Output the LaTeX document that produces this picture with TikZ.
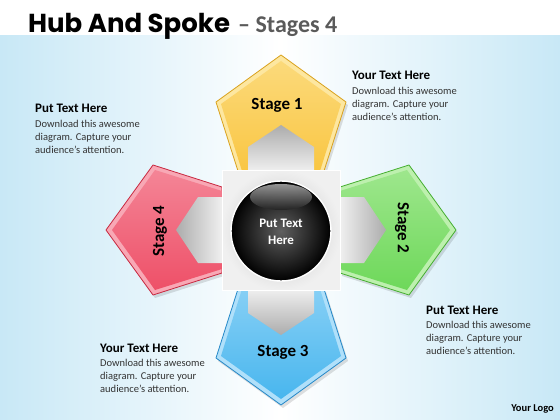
\documentclass[tikz,border=0pt]{standalone}
\usepackage{fontspec}
\setmainfont{Carlito}
\newfontfamily\titlefont{Poppins}
\definecolor{bgblue}{RGB}{200,232,246}
\definecolor{yD}{HTML}{D9A21E}\definecolor{yM}{HTML}{F9C643}\definecolor{yL}{HTML}{FDE7A0}
\definecolor{gD}{HTML}{45AE30}\definecolor{gM}{HTML}{6ED85A}\definecolor{gL}{HTML}{BDF0AE}
\definecolor{bD}{HTML}{2588C8}\definecolor{bM}{HTML}{48B6EE}\definecolor{bL}{HTML}{B0E0FA}
\definecolor{rD}{HTML}{C82840}\definecolor{rM}{HTML}{EE5068}\definecolor{rL}{HTML}{F8A8B5}
\definecolor{bodygray}{HTML}{333333}
\definecolor{titlegray}{HTML}{5A5A5A}
\begin{document}
\begin{tikzpicture}[x=1pt,y=-1pt,
  stagelbl/.style={font=\fontsize{17}{17}\selectfont\bfseries, text=black, inner sep=0},
  headtxt/.style={font=\fontsize{13}{14}\selectfont\bfseries, anchor=base west, inner sep=0, text=black},
  bodytxt/.style={font=\fontsize{10.5}{13.2}\selectfont, anchor=base west, align=left, inner sep=0, text=bodygray},
]
\useasboundingbox (0,0) rectangle (560,420);
% background
\fill[white] (0,0) rectangle (560,420);
\shade[left color=bgblue, right color=bgblue, middle color=white] (0,36) rectangle (560,420);

% title
\node[anchor=base west, inner sep=0, font=\titlefont\bfseries\fontsize{26}{26}\selectfont] (title) at (28,33) {Hub And Spoke};
\node[anchor=base west, inner sep=0, font=\bfseries\fontsize{24}{24}\selectfont, text=titlegray] (subtitle) at (238,33) {\textendash\ Stages 4};

% shadows
\foreach \ang in {0,-90,180,90}{
  \begin{scope}[shift={(283,233)}, rotate=\ang]
    \fill[black, opacity=0.12] (0,-175) -- (65,-128) -- (43,-59) -- (-43,-59) -- (-65,-128) -- cycle;
  \end{scope}
}
% spokes
\foreach \ang/\D/\M/\L in {0/yD/yM/yL, -90/gD/gM/gL, 180/bD/bM/bL, 90/rD/rM/rL}{
  \begin{scope}[shift={(281,230)}, rotate=\ang]
    \fill[\L, draw=\D, line width=0.8pt, line join=round] (0,-175) -- (65,-128) -- (43,-59) -- (-43,-59) -- (-65,-128) -- cycle;
    \shade[top color=\L!60!\M, bottom color=\M] (0,-169) -- (60,-126) -- (39,-59) -- (-39,-59) -- (-60,-126) -- cycle;
    \shade[top color=gray!65, bottom color=gray!12, shading angle=\ang] (0,-105) -- (33,-83) -- (33,-59) -- (-33,-59) -- (-33,-83) -- cycle;
  \end{scope}
}
% center square
\shade[inner color=gray!50, outer color=gray!12, draw=white, line width=0.6pt] (222,170) rectangle (340,290);
% sphere
\shade[inner color=gray!75!black, outer color=black] (281,231) circle[radius=50];
\draw[white, line width=1.4pt] (281,231) circle[radius=50];
\shade[top color=gray!65, bottom color=gray!25!black, opacity=0.85] (281,197) ellipse[x radius=31, y radius=13];
\node[inner sep=0, align=center, text=white, font=\fontsize{13}{16.5}\selectfont\bfseries] (hub) at (281,232) {Put Text\\Here};

% stage labels
\node[stagelbl] (s1) at (277,105) {Stage 1};
\node[stagelbl, rotate=-90] (s2) at (402,228) {Stage 2};
\node[stagelbl] (s3) at (283,352) {Stage 3};
\node[stagelbl, rotate=90] (s4) at (160,231) {Stage 4};

% text blocks (body nodes anchored at the baseline of their last line)
\node[headtxt] (h1) at (35,113) {Put Text Here};
\node[bodytxt] (t1) at (35,153.4) {Download this awesome\\diagram.  Capture your\\audience's attention.};
\node[headtxt] (h2) at (352,80) {Your Text Here};
\node[bodytxt] (t2) at (352,120.4) {Download this awesome\\diagram.  Capture your\\audience's attention.};
\node[headtxt] (h3) at (426,314) {Put Text Here};
\node[bodytxt] (t3) at (426,354.4) {Download this awesome\\diagram.  Capture your\\audience's attention.};
\node[headtxt] (h4) at (100,352) {Your Text Here};
\node[bodytxt] (t4) at (100,392.4) {Download this awesome\\diagram.  Capture your\\audience's attention.};

\node[anchor=base east, inner sep=0, font=\fontsize{10.5}{12}\selectfont\bfseries] (logo) at (554,411) {Your Logo};
\end{tikzpicture}
\end{document}
